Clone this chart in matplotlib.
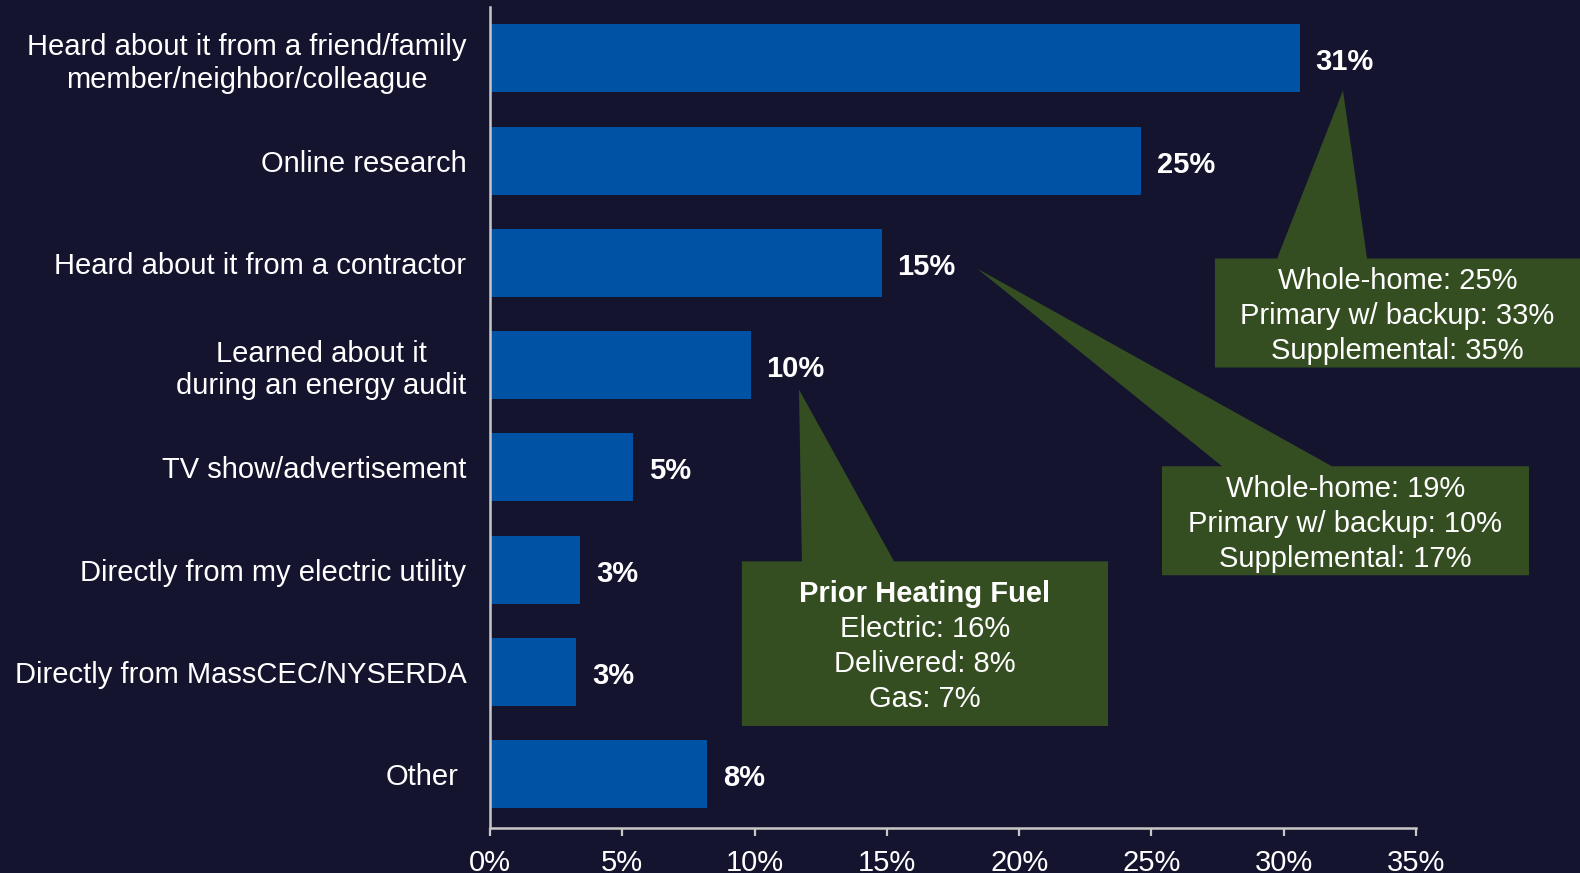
import matplotlib
matplotlib.use("Agg")
import matplotlib.pyplot as plt
from matplotlib.patches import Polygon
from matplotlib.ticker import FuncFormatter
from matplotlib.transforms import ScaledTranslation

plt.rcParams['font.family'] = ['Liberation Sans', 'DejaVu Sans']

categories = [
    "Heard about it from a friend/family\nmember/neighbor/colleague",
    "Online research",
    "Heard about it from a contractor",
    "Learned about it\nduring an energy audit",
    "TV show/advertisement",
    "Directly from my electric utility",
    "Directly from MassCEC/NYSERDA",
    "Other",
]
values = [30.6, 24.6, 14.8, 9.85, 5.4, 3.4, 3.25, 8.2]
value_labels = ["31%", "25%", "15%", "10%", "5%", "3%", "3%", "8%"]
xticks = [0, 5, 10, 15, 20, 25, 30, 35]

callout_texts = [
    ["Whole-home: 25%", "Primary w/ backup: 33%", "Supplemental: 35%"],
    ["Whole-home: 19%", "Primary w/ backup: 10%", "Supplemental: 17%"],
    ["Prior Heating Fuel", "Electric: 16%", "Delivered: 8%", "Gas: 7%"],
]

BG = "#14142F"
BAR = "#0053A4"
GREEN = "#354E21"
AXC = "#C8C8C8"

fig = plt.figure(figsize=(15.8, 8.73), dpi=100)
fig.patch.set_facecolor(BG)
ax = fig.add_axes([490/1580, 1-828/873, (1416-490)/1580, (828-7)/873])
ax.set_facecolor(BG)

ypos = list(range(len(categories)))
ax.barh(ypos, values, height=0.665, color=BAR, zorder=2)
ax.set_xlim(0, 35)
ax.set_ylim(7.528, -0.502)

for y, v, lab in zip(ypos, values, value_labels):
    ax.annotate(lab, (v, y), xytext=(16, -1), textcoords='offset pixels',
                ha='left', va='center_baseline', fontsize=21, fontweight='bold',
                color='white', zorder=5)

ax.set_yticks(ypos)
ax.set_yticklabels(categories, fontsize=21, color='white',
                   multialignment='center', linespacing=1.2)
ax.tick_params(axis='y', length=0, pad=17)
ax.set_xticks(xticks)
ax.xaxis.set_major_formatter(FuncFormatter(lambda x, p: f"{int(x)}%"))
ax.tick_params(axis='x', colors=AXC, labelcolor='white', labelsize=21,
               length=6, width=1.6, direction='out', pad=9)
for s in ['top', 'right']:
    ax.spines[s].set_visible(False)
for s in ['left', 'bottom']:
    ax.spines[s].set_color(AXC)
    ax.spines[s].set_linewidth(1.8)

# "Other" label sits slightly further left in the reference
other_tick = ax.yaxis.get_major_ticks()[7]
other_tick.label1.set_transform(other_tick.label1.get_transform()
                                + ScaledTranslation(-0.08, 0, fig.dpi_scale_trans))

# callouts: box (x0, x1, y0, y1), tip (x, y), base (xa, xb)
callouts = [
    ((27.40, 41.20, 1.958, 3.024), (32.24, 0.316), (29.75, 33.15)),
    ((25.40, 39.27, 3.99, 5.056), (18.41, 2.056), (27.67, 31.82)),
    ((9.52, 23.36, 4.92, 6.53), (11.68, 3.24), (11.79, 15.27)),
]
for i, ((x0, x1, y0, y1), (tx, ty), (ba, bb)) in enumerate(callouts):
    poly = Polygon([(x0, y0), (ba, y0), (tx, ty), (bb, y0), (x1, y0),
                    (x1, y1), (x0, y1)], closed=True, facecolor=GREEN,
                   edgecolor='none', clip_on=False, zorder=4)
    ax.add_patch(poly)
    lines = callout_texts[i]
    n = len(lines)
    cy = (y0 + y1) / 2
    step = 35 / 102.3
    for k, t in enumerate(lines):
        yy = cy + (k - (n - 1) / 2) * step
        fw = 'bold' if (i == 2 and k == 0) else 'normal'
        ax.text((x0 + x1) / 2, yy, t, ha='center', va='center_baseline',
                fontsize=21, color='white', fontweight=fw, zorder=6,
                clip_on=False)

fig.savefig("out.png", dpi=100, facecolor=BG)
